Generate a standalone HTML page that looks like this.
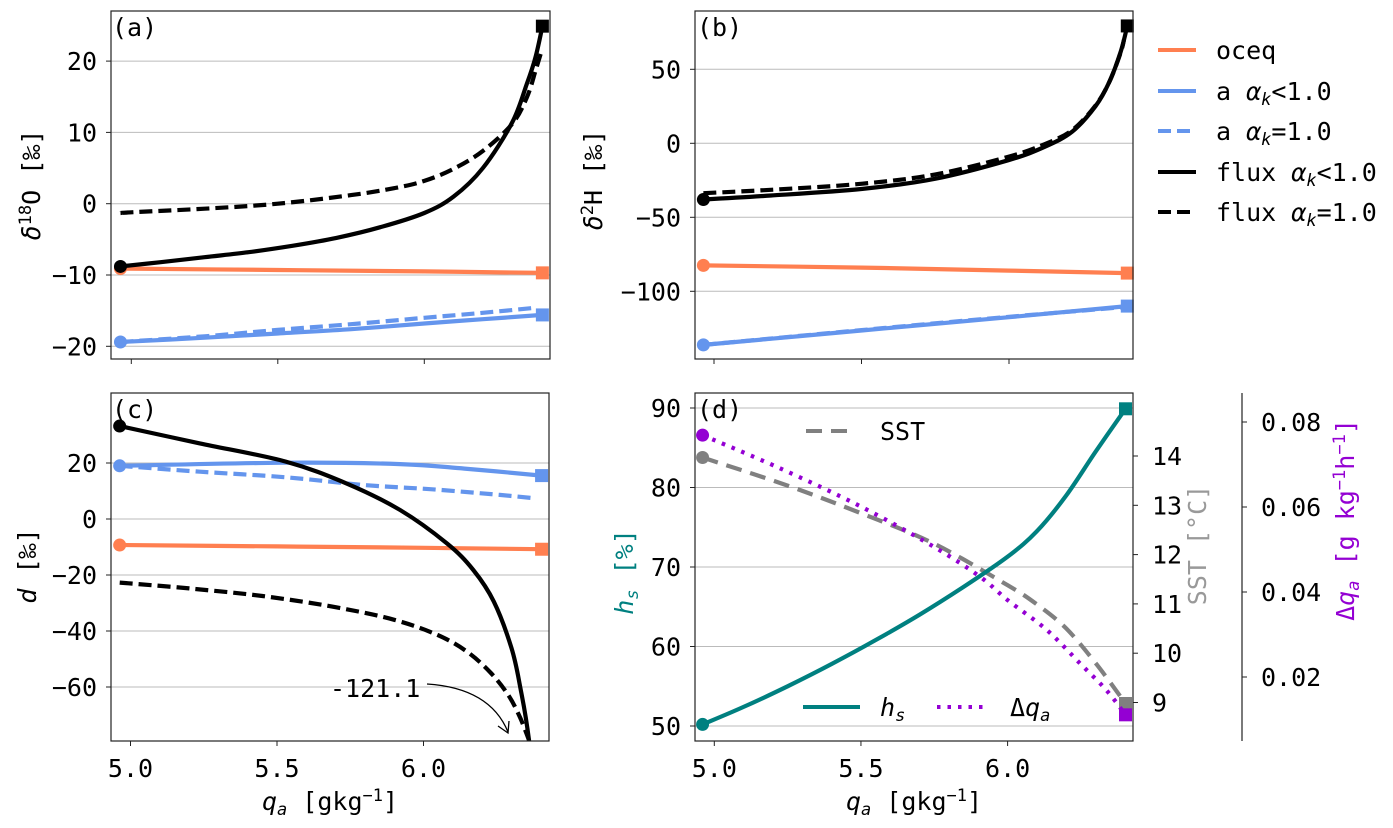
<!DOCTYPE html>
<html><head><meta charset="utf-8"><style>
body{margin:0;background:#fff}
svg{display:block;font-family:"DejaVu Sans Mono","Liberation Mono",monospace}
</style></head><body>
<svg id="fig" width="1393" height="828" viewBox="0 0 1393 828" xmlns="http://www.w3.org/2000/svg">
<defs>
<clipPath id="clipA"><rect x="111" y="11" width="439" height="348"/></clipPath>
<clipPath id="clipB"><rect x="695" y="11" width="438" height="348"/></clipPath>
<clipPath id="clipC"><rect x="111" y="393" width="438" height="348"/></clipPath>
<clipPath id="clipD"><rect x="695" y="393" width="438" height="348"/></clipPath>
</defs>
<g id="grids"></g>
<g id="series"></g>
<g id="frames"></g>
<g id="labels"></g>
</svg>
<script>
// ---- data ----
const aFluxQ=[4.963,5.1,5.25,5.4,5.55,5.7,5.85,6.0,6.1,6.2,6.3,6.35,6.38,6.403];
const aFluxK=[-8.8,-8.2,-7.5,-6.8,-5.9,-4.8,-3.3,-1.3,1.0,5.0,11.4,16.8,20.6,24.9];
const aFluxQd=[4.963,5.0,5.25,5.5,5.75,5.9,6.0,6.1,6.2,6.3,6.35,6.38,6.4];
const aFlux1=[-1.3,-1.2,-0.7,0,1.2,2.2,3.2,4.9,7.4,11.2,14.9,18.7,21.4];
const aBlueQ=[4.963,5.25,5.5,5.75,6.0,6.2,6.403];
const aBlueK=[-19.4,-18.8,-18.2,-17.6,-16.8,-16.2,-15.6];
const aBlueQd=[4.963,5.25,5.5,5.75,6.0,6.2,6.38];
const aBlue1=[-19.4,-18.6,-17.7,-16.9,-16.0,-15.3,-14.6];
const aOceqQ=[4.963,5.5,6.0,6.403];
const aOceq=[-9.1,-9.3,-9.5,-9.7];

const bFluxQ=[4.964,5.193,5.503,5.751,5.998,6.122,6.215,6.293,6.339,6.378,6.401];
const bFluxK=[-38,-35.3,-30.8,-23.9,-11.4,-2.3,8,25,41,61.5,79.3];
const bFluxQd=[4.964,5.193,5.503,5.751,5.998,6.122,6.215,6.293,6.339,6.378,6.39];
const bFlux1=[-33.7,-31.4,-27.3,-21,-9.1,-0.5,9,25.5,41,61,70];
const bOceqQ=[4.964,5.5,6.0,6.401];
const bOceq=[-82.5,-84,-86,-87.7];
const bBlueQ=[4.964,5.5,6.0,6.401];
const bBlueK=[-136.2,-126.5,-117.5,-110];
const bBlue1=[-136.2,-126.2,-117.2,-110.5];

const cFluxQ=[4.963,5.237,5.53,5.737,5.92,6.08,6.17,6.24,6.30,6.33,6.36,6.403];
const cFluxK=[33.2,27,20.5,12.7,3.2,-8.7,-18.2,-29.5,-46,-60,-79,-121.1];
const cFlux1Q=[4.963,5.2,5.45,5.7,5.9,6.05,6.15,6.23,6.29,6.33,6.36];
const cFlux1=[-22.7,-24.8,-27.5,-31.5,-36,-41.5,-47.5,-55,-63,-71,-79];
const cBlueQ=[4.963,5.53,5.92,6.14,6.403];
const cBlueK=[19,20.1,19.6,18,15.5];
const cBlueQd=[4.963,5.237,5.53,5.80,6.03,6.26,6.38];
const cBlue1=[19,16.9,14.9,12.1,10.6,8.6,7.4];
const cOceqQ=[4.963,5.5,6.0,6.403];
const cOceq=[-9.3,-9.8,-10.3,-10.8];

const dHsQ=[4.96,5.1,5.25,5.4,5.55,5.7,5.85,6.0,6.1,6.2,6.3,6.402];
const dHs=[50.2,52.4,55.0,57.8,60.8,64.0,67.5,71.3,74.5,79.0,84.5,89.9];
const dSstQ=[4.96,5.25,5.5,5.75,6.0,6.1,6.2,6.3,6.402];
const dSst=[13.97,13.4,12.84,12.22,11.38,10.99,10.5,9.8,8.98];
const dQ=[4.960,5.224,5.5,5.747,5.906,6.0,6.133,6.247,6.337,6.402];
const dDq=[0.0769,0.0691,0.0601,0.0507,0.0436,0.0381,0.0311,0.0232,0.0169,0.0111];

const aTicks=[20,10,0,-10,-20];
const bTicks=[50,0,-50,-100];
const cTicks=[20,0,-20,-40,-60];
const dTicks=[90,80,70,60,50];
const sstTicks=[14,13,12,11,10,9];
const dqTicks=[0.08,0.06,0.04,0.02];
const xTicks=[5.0,5.5,6.0];

// ---- scales ----
const P={
 A:{l:111,r:550,t:11,b:359,x:q=>131.3+(q-5)*293,y:v=>203.7-v*7.13,clip:'clipA'},
 B:{l:695,r:1133,t:11,b:359,x:q=>714+(q-5)*295,y:v=>143.3-v*1.48,clip:'clipB'},
 C:{l:111,r:549,t:393,b:741,x:q=>130.5+(q-5)*293,y:v=>519-v*2.8,clip:'clipC'},
 D:{l:695,r:1133,t:393,b:741,x:q=>714.3+(q-5)*293.3,y:v=>726-(v-50)*7.95,clip:'clipD'}
};
const ySst=v=>456+(14-v)*49.3;
const yDq=v=>422+(0.08-v)*4250;
const NS='http://www.w3.org/2000/svg';
const G=id=>document.getElementById(id);
function mk(tag,attrs,parent){const e=document.createElementNS(NS,tag);for(const k in attrs)e.setAttribute(k,attrs[k]);parent.appendChild(e);return e;}
const ORANGE='#ff7f50',BLUE='#6495ed',TEAL='#008080',GREY='#808080',PURP='#9400d3';

function smooth(pts){
  let d='M'+pts[0][0].toFixed(1)+','+pts[0][1].toFixed(1);
  for(let i=0;i<pts.length-1;i++){
    const p0=pts[Math.max(0,i-1)],p1=pts[i],p2=pts[i+1],p3=pts[Math.min(pts.length-1,i+2)];
    const c1x=p1[0]+(p2[0]-p0[0])/6,c1y=p1[1]+(p2[1]-p0[1])/6;
    const c2x=p2[0]-(p3[0]-p1[0])/6,c2y=p2[1]-(p3[1]-p1[1])/6;
    d+=' C'+c1x.toFixed(1)+','+c1y.toFixed(1)+' '+c2x.toFixed(1)+','+c2y.toFixed(1)+' '+p2[0].toFixed(1)+','+p2[1].toFixed(1);
  }
  return d;
}
function series(p,qs,vs,color,dash,name,startM,endM,yf){
  yf=yf||p.y;
  const pts=qs.map((q,i)=>[p.x(q),yf(vs[i])]);
  const g=mk('g',{'clip-path':'url(#'+p.clip+')'},G('series'));
  const pl=mk('path',{d:smooth(pts),fill:'none',stroke:color,'stroke-width':4.2,'stroke-linejoin':'round'},g);
  if(dash)pl.setAttribute('stroke-dasharray',dash);
  
  
  if(startM){const c=mk('circle',{cx:p.x(qs[0]),cy:yf(vs[0]),r:6.5,fill:color},G('series'));
    
    }
  if(endM){const n=qs.length-1;const s=mk('rect',{x:p.x(qs[n])-6.5,y:yf(vs[n])-6.5,width:13,height:13,fill:color},G('series'));
    
    }
}
function frame(p,name){
  const r=mk('rect',{x:p.l,y:p.t,width:p.r-p.l,height:p.b-p.t,fill:'none',stroke:'#222','stroke-width':1.2},G('frames'));
  
  
}
function yaxis(p,ticks,name,grid){
  ticks.forEach(v=>{const y=p.y(v);
    if(grid){const gl=mk('line',{x1:p.l,x2:p.r,y1:y,y2:y,stroke:'#bbb','stroke-width':1},G('grids'));
      
      }
    mk('line',{x1:p.l-5,x2:p.l,y1:y,y2:y,stroke:'#222','stroke-width':1},G('frames'));
    const t=mk('text',{x:p.l-14,y:y+9,'text-anchor':'end','font-size':25},G('labels'));
    t.textContent=(v<0?'\u2212'+(-v):String(v));
    
    });
}
function xaxis(p,labels,name){
  xTicks.forEach(q=>{const x=p.x(q);
    mk('line',{x1:x,x2:x,y1:p.b,y2:p.b+5,stroke:'#222','stroke-width':1},G('frames'));
    if(labels){const t=mk('text',{x:x,y:p.b+36,'text-anchor':'middle','font-size':25},G('labels'));
      t.textContent=q.toFixed(1);
      
      }});
}
// panel A
yaxis(P.A,aTicks,'a-y',true);xaxis(P.A,false,'a-x');
series(P.A,aOceqQ,aOceq,ORANGE,null,'a-oceq',true,true);
series(P.A,aBlueQd,aBlue1,BLUE,'13 6','a-blue-ak1',false,false);
series(P.A,aBlueQ,aBlueK,BLUE,null,'a-blue-ak',true,true);
series(P.A,aFluxQd,aFlux1,'#000','13 6','a-flux-ak1',false,false);
series(P.A,aFluxQ,aFluxK,'#000',null,'a-flux-ak',true,true);
frame(P.A,'panel-a-frame');
// panel B
yaxis(P.B,bTicks,'b-y',true);xaxis(P.B,false,'b-x');
series(P.B,bOceqQ,bOceq,ORANGE,null,'b-oceq',true,true);
series(P.B,bBlueQ,bBlue1,BLUE,'13 6','b-blue-ak1',false,false);
series(P.B,bBlueQ,bBlueK,BLUE,null,'b-blue-ak',true,true);
series(P.B,bFluxQd,bFlux1,'#000','13 6','b-flux-ak1',false,false);
series(P.B,bFluxQ,bFluxK,'#000',null,'b-flux-ak',true,true);
frame(P.B,'panel-b-frame');
// panel C
yaxis(P.C,cTicks,'c-y',true);xaxis(P.C,true,'c-x');
series(P.C,cOceqQ,cOceq,ORANGE,null,'c-oceq',true,true);
series(P.C,cBlueQd,cBlue1,BLUE,'13 6','c-blue-ak1',false,false);
series(P.C,cBlueQ,cBlueK,BLUE,null,'c-blue-ak',true,true);
series(P.C,cFlux1Q,cFlux1,'#000','13 6','c-flux-ak1',false,false);
series(P.C,cFluxQ,cFluxK,'#000',null,'c-flux-ak',true,false);
frame(P.C,'panel-c-frame');
// panel D
yaxis(P.D,dTicks,'d-y',true);xaxis(P.D,true,'d-x');
series(P.D,dSstQ,dSst,GREY,'16 9','d-sst',true,true,ySst);
series(P.D,dQ,dDq,PURP,'3.5 7','d-dq',true,true,yDq);
series(P.D,dHsQ,dHs,TEAL,null,'d-hs',true,true);
frame(P.D,'panel-d-frame');
// SST axis
sstTicks.forEach(v=>{const y=ySst(v);
  mk('line',{x1:1133,x2:1138,y1:y,y2:y,stroke:'#222','stroke-width':1},G('frames'));
  const t=mk('text',{x:1152,y:y+9,'font-size':25},G('labels'));t.textContent=String(v);
  
  });
// dq axis
mk('line',{x1:1242,x2:1242,y1:393,y2:741,stroke:'#222','stroke-width':1.2},G('frames'));
dqTicks.forEach(v=>{const y=yDq(v);
  mk('line',{x1:1242,x2:1247,y1:y,y2:y,stroke:'#222','stroke-width':1},G('frames'));
  const t=mk('text',{x:1261,y:y+9,'font-size':25},G('labels'));t.textContent=v.toFixed(2);
  
  });
</script>
<svg style="position:absolute;left:0;top:0" width="1393" height="828" font-family="DejaVu Sans Mono, Liberation Mono, monospace" font-size="25">
<g>
<text x="112" y="36">(a)</text><text x="697" y="36">(b)</text>
<text x="112" y="418">(c)</text><text x="697" y="418">(d)</text>
</g>
<text transform="translate(40,185) rotate(-90)" text-anchor="middle"><tspan font-style="italic">δ</tspan><tspan dy="-9" font-size="17">18</tspan><tspan dy="9">O [‰]</tspan></text>
<text transform="translate(602,180) rotate(-90)" text-anchor="middle"><tspan font-style="italic">δ</tspan><tspan dy="-9" font-size="17">2</tspan><tspan dy="9">H [‰]</tspan></text>
<text transform="translate(36,566) rotate(-90)" text-anchor="middle"><tspan font-style="italic">d</tspan> [‰]</text>
<text fill="#008080" transform="translate(633,572) rotate(-90)" text-anchor="middle"><tspan font-style="italic">h</tspan><tspan font-style="italic" font-size="17" dy="5">s</tspan><tspan dy="-5"> [%]</tspan></text>
<text fill="#999" transform="translate(1206,545) rotate(-90)" text-anchor="middle">SST [°C]</text>
<text fill="#9400d3" transform="translate(1354,520) rotate(-90)" text-anchor="middle">Δ<tspan font-style="italic">q</tspan><tspan font-style="italic" font-size="17" dy="5">a</tspan><tspan dy="-5"> [g kg</tspan><tspan font-size="17" dy="-9">−1</tspan><tspan dy="9">h</tspan><tspan font-size="17" dy="-9">−1</tspan><tspan dy="9">]</tspan></text>
<text x="330" y="810" text-anchor="middle"><tspan font-style="italic">q</tspan><tspan font-style="italic" font-size="17" dy="5">a</tspan><tspan dy="-5"> [gkg</tspan><tspan font-size="17" dy="-9">−1</tspan><tspan dy="9">]</tspan></text>
<text x="914" y="810" text-anchor="middle"><tspan font-style="italic">q</tspan><tspan font-style="italic" font-size="17" dy="5">a</tspan><tspan dy="-5"> [gkg</tspan><tspan font-size="17" dy="-9">−1</tspan><tspan dy="9">]</tspan></text>
<g>
<text x="330" y="697">-121.1</text>
<path d="M427,684 Q490,688 508,732" fill="none" stroke="#000" stroke-width="1.3"/>
<path d="M498,726 L508,733 L509,721" fill="none" stroke="#000" stroke-width="1.3"/>
</g>
<g>
<g><line x1="1158" x2="1196" y1="50" y2="50" stroke="#ff7f50" stroke-width="4"/><text x="1216" y="59">oceq</text></g>
<g><line x1="1158" x2="1196" y1="91" y2="91" stroke="#6495ed" stroke-width="4"/><text x="1216" y="100">a <tspan font-style="italic">α</tspan><tspan font-style="italic" font-size="17" dy="5">k</tspan><tspan dy="-5">&lt;1.0</tspan></text></g>
<g><line x1="1158" x2="1196" y1="131" y2="131" stroke="#6495ed" stroke-width="4" stroke-dasharray="13 6"/><text x="1216" y="140">a <tspan font-style="italic">α</tspan><tspan font-style="italic" font-size="17" dy="5">k</tspan><tspan dy="-5">=1.0</tspan></text></g>
<g><line x1="1158" x2="1196" y1="172" y2="172" stroke="#000" stroke-width="4"/><text x="1216" y="181">flux <tspan font-style="italic">α</tspan><tspan font-style="italic" font-size="17" dy="5">k</tspan><tspan dy="-5">&lt;1.0</tspan></text></g>
<g><line x1="1158" x2="1196" y1="212" y2="212" stroke="#000" stroke-width="4" stroke-dasharray="13 6"/><text x="1216" y="221">flux <tspan font-style="italic">α</tspan><tspan font-style="italic" font-size="17" dy="5">k</tspan><tspan dy="-5">=1.0</tspan></text></g>
</g>
<g>
<g><line x1="806" x2="851" y1="431" y2="431" stroke="#808080" stroke-width="4" stroke-dasharray="16 9"/><text x="880" y="440">SST</text></g>
<g><line x1="803" x2="860" y1="707" y2="707" stroke="#008080" stroke-width="4"/><text x="880" y="716" font-style="italic">h<tspan font-size="17" dy="5">s</tspan></text></g>
<g><line x1="937" x2="985" y1="707" y2="707" stroke="#9400d3" stroke-width="4" stroke-dasharray="3.5 7"/><text x="1010" y="716">Δ<tspan font-style="italic">q</tspan><tspan font-style="italic" font-size="17" dy="5">a</tspan></text></g>
</g>
</svg>
</body></html>
